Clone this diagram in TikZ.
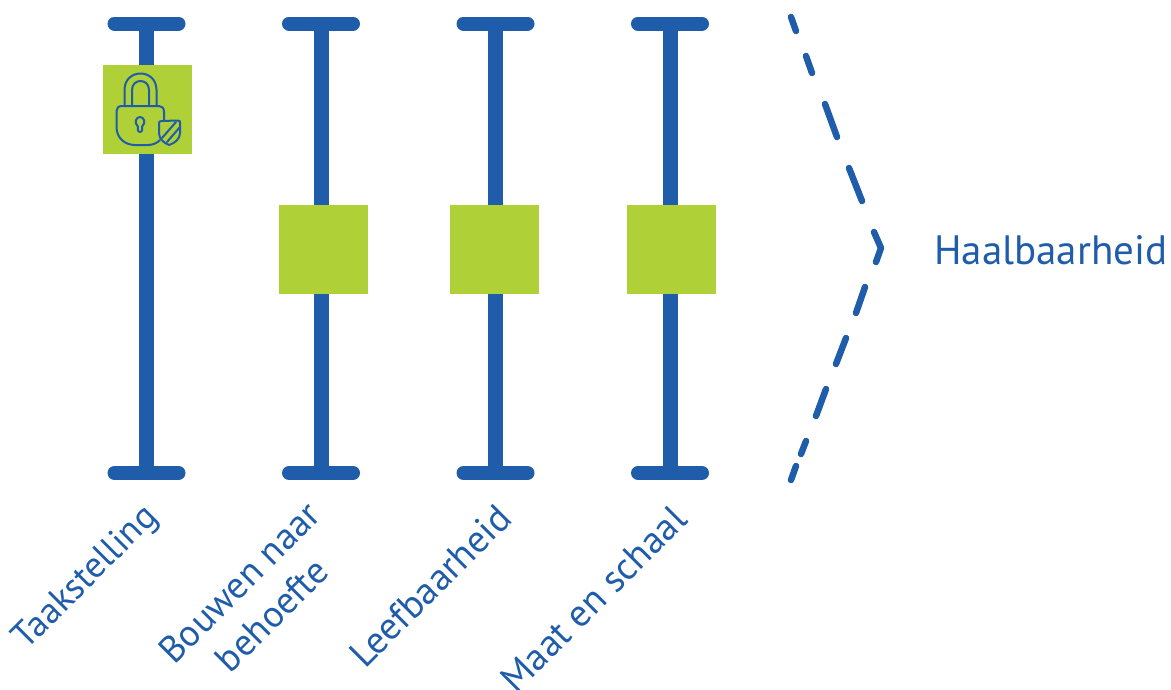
\documentclass[tikz,border=0pt]{standalone}
\usepackage{fontspec}
\setmainfont{PT Sans}
\definecolor{rblue}{RGB}{31,92,170}
\definecolor{rgreen}{RGB}{176,208,55}
\tikzset{
  bar/.style={draw=rblue,line width=15pt},
  capbar/.style={draw=rblue,line width=14pt,line cap=round},
  greenbox/.style={fill=rgreen,draw=none,minimum width=89pt,minimum height=89pt,inner sep=0pt,outer sep=0pt},
  dashpart/.style={draw=rblue,line width=6.5pt,line cap=round,line join=round},
  lbl/.style={text=rblue,font=\fontsize{38}{46}\selectfont,inner sep=0pt,align=center},
  icon/.style={draw=rblue,line width=2pt,line cap=round,line join=round}
}
\begin{document}
\begin{tikzpicture}[x=1pt,y=-1pt]
\useasboundingbox (0,0) rectangle (1171,689);
% bars
\foreach \n/\x in {a/146.5,b/321,c/495.5,d/670}{
  \coordinate (\n t) at (\x,23.5);
  \coordinate (\n b) at (\x,473);
  \draw[bar] (\n t) -- (\n b);
  \draw[capbar] ([xshift=-32pt]\n t) -- ([xshift=32pt]\n t);
  \draw[capbar] ([xshift=-32pt]\n b) -- ([xshift=32pt]\n b);
}
% sliders
\node[greenbox] (sa) at (147.5,109.5) {};
\node[greenbox] (sb) at (323.5,249.5) {};
\node[greenbox] (sc) at (494.5,249.5) {};
\node[greenbox] (sd) at (671.5,249.5) {};
% lock icon
\draw[icon] (164,120) -- (164,112) .. controls (164,108) and (162,106) .. (159,106) -- (122,106)
  .. controls (118.5,106) and (116.5,108) .. (116.5,111) -- (116.5,127)
  .. controls (116.5,138) and (125,145) .. (135,145) -- (148,145) .. controls (153,145) and (157,143) .. (160,140);
\draw[icon] (124.5,106) -- (124.5,90) .. controls (124.5,68) and (156.5,68) .. (156.5,90) -- (156.5,106)
  (132,106) -- (132,90) .. controls (132,78) and (149,78) .. (149,90) -- (149,106);
\draw[icon] (137.8,126.5) .. controls (133.5,122) and (136.5,117) .. (140,117) .. controls (143.5,117) and (146.5,122) .. (142.2,126.5) -- (142.2,130) .. controls (142.2,132.5) and (137.8,132.5) .. (137.8,130) -- cycle;
\draw[icon] (159,123) .. controls (159,121.5) and (160,121) .. (162,121) -- (178,120.5) .. controls (180,120.5) and (180,121.5) .. (180,123) -- (180,133) .. controls (180,139) and (175,143) .. (169,145) .. controls (164,143) and (159,139) .. (159,133) -- cycle;
\draw[icon] (162,138) -- (176,122) (167,142) -- (180,127);
% dashed chevron
\coordinate (p0) at (791,17);  \coordinate (p1) at (796,31);
\coordinate (p2) at (806,56);  \coordinate (p3) at (812,73);
\coordinate (p4) at (825,104); \coordinate (p5) at (837,137);
\coordinate (p6) at (849,168); \coordinate (p7) at (862,201);
\coordinate (p8) at (874,232); \coordinate (tip) at (881,248); \coordinate (p9) at (876,262);
\coordinate (q0) at (865,287); \coordinate (q1) at (856,313);
\coordinate (q2) at (846,338); \coordinate (q3) at (836,364);
\coordinate (q4) at (826,389); \coordinate (q5) at (816,416);
\coordinate (q6) at (806,441); \coordinate (q7) at (801,454);
\coordinate (q8) at (796,466); \coordinate (q9) at (791,480);
\draw[dashpart] (p0)--(p1) (p2)--(p3) (p4)--(p5) (p6)--(p7) (p8)--(tip)--(p9)
  (q0)--(q1) (q2)--(q3) (q4)--(q5) (q6)--(q7) (q8)--(q9);
% labels
\node[lbl,anchor=base west,font=\fontsize{41}{44}\selectfont] (haal) at (934,264) {Haalbaarheid};
\node[lbl,rotate=45,font=\fontsize{36.5}{46}\selectfont] (l1) at (86.5,578.5) {Taakstelling};
\node[lbl,rotate=45,font=\fontsize{37.5}{46}\selectfont] (l2) at (255.5,598.5) {Bouwen naar\\behoefte};
\node[lbl,rotate=45] (l3) at (430,586) {Leefbaarheid};
\node[lbl,rotate=45] (l4) at (593.5,599) {Maat en schaal};
\end{tikzpicture}
\end{document}
